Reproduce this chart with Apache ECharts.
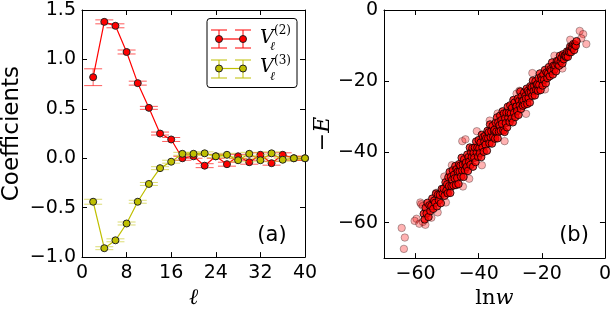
<!DOCTYPE html>
<html>
<head>
<meta charset="utf-8">
<script src="https://cdn.jsdelivr.net/npm/echarts@6/dist/echarts.min.js"></script>
<style>
html,body{margin:0;padding:0;background:#fff;}
#chart{width:614px;height:314px;}
</style>
</head>
<body>
<div id="chart"></div>
<script>
// ---- Panel (a) data ----
const ell = [2,4,6,8,10,12,14,16,18,20,22,24,26,28,30,32,34,36,38,40];
const v2 = [0.82,1.38,1.34,1.075,0.76,0.51,0.25,0.19,0.0,0.02,-0.075,0.02,-0.06,0.02,-0.04,0.035,-0.05,0.035,0.0,0.0];
const v2err = [0.085,0.02,0.02,0.02,0.02,0.015,0.015,0.02,0.02,0.02,0.02,0.02,0.02,0.02,0.02,0.02,0.02,0.02,0.02,0.02];
const v3 = [-0.44,-0.91,-0.83,-0.66,-0.44,-0.26,-0.10,-0.035,0.045,0.045,0.05,0.02,0.035,-0.02,0.045,-0.02,0.05,-0.015,0.0,0.0];
const v3err = [0.025,0.015,0.015,0.015,0.015,0.015,0.015,0.015,0.015,0.015,0.015,0.015,0.015,0.015,0.015,0.015,0.015,0.015,0.015,0.015];
const yTicksA = [-1.0,-0.5,0.0,0.5,1.0,1.5];
const xTicksA = [0,8,16,24,32,40];

// ---- Panel (b) data: dense band ----
const coreLnw = [
-57.4,-57.1,-56.8,-56.5,-56.2,-55.9,-55.6,-55.3,-55.0,-54.7,-54.4,-54.1,-53.8,-53.5,-53.2,-52.9,-52.6,-52.3,-52.0,-51.7,-51.4,-51.1,-50.8,-50.5,-50.2,
-50.0,-49.8,-49.6,-49.4,-49.2,-49.0,-48.8,-48.6,-48.4,-48.2,-48.0,-47.8,-47.6,-47.4,-47.2,-47.0,-46.8,-46.6,-46.4,-46.2,-46.0,-45.8,-45.6,-45.4,-45.2,-45.0,-44.8,-44.6,-44.4,-44.2,
-44.0,-43.8,-43.6,-43.4,-43.2,-43.0,-42.8,-42.6,-42.4,-42.2,-42.0,-41.8,-41.6,-41.4,-41.2,-41.0,-40.8,-40.6,-40.4,-40.2,-40.0,-39.8,-39.6,-39.4,-39.2,-39.0,-38.8,-38.6,-38.4,-38.2,
-38.0,-37.8,-37.6,-37.4,-37.2,-37.0,-36.8,-36.6,-36.4,-36.2,-36.0,-35.8,-35.6,-35.4,-35.2,-35.0,-34.8,-34.6,-34.4,-34.2,-34.0,-33.8,-33.6,-33.4,-33.2,-33.0,-32.8,-32.6,-32.4,-32.2,
-32.0,-31.8,-31.6,-31.4,-31.2,-31.0,-30.8,-30.6,-30.4,-30.2,-30.0,-29.8,-29.6,-29.4,-29.2,-29.0,-28.8,-28.6,-28.4,-28.2,-28.0,-27.8,-27.6,-27.4,-27.2,-27.0,-26.8,-26.6,-26.4,-26.2,
-26.0,-25.8,-25.6,-25.4,-25.2,-25.0,-24.8,-24.6,-24.4,-24.2,-24.0,-23.8,-23.6,-23.4,-23.2,-23.0,-22.8,-22.6,-22.4,-22.2,-22.0,-21.8,-21.6,-21.4,-21.2,-21.0,-20.8,-20.6,-20.4,-20.2,
-20.0,-19.75,-19.5,-19.25,-19.0,-18.75,-18.5,-18.25,-18.0,-17.75,-17.5,-17.25,-17.0,-16.75,-16.5,
-16.25,-16.0,-15.75,-15.5,-15.25,-15.0,-14.75,-14.5,-14.25,-14.0,-13.75,-13.5,-13.25,-13.0,-12.75,
-12.5,-12.25,-12.0,-11.75,-11.5,-11.25,-11.0,-10.75,-10.5,-10.25,-10.0,-9.75,-9.5,-9.25,-9.0
];
const coreNegE = [
-57.5,-59.1,-55.8,-57.4,-54.4,-58.4,-55.1,-56.7,-55.3,-53.2,-56.1,-53.8,-54.4,-51.8,-55.4,-52.1,-53.7,-52.2,-54.5,-50.5,-51.8,-50.4,-52.4,-48.6,-50.9,
-49.2,-51.7,-47.2,-49.7,-45.7,-51.6,-47.1,-49.7,-47.9,-45.2,-49.5,-46.5,-47.5,-44.0,-49.4,-44.9,-47.4,-45.6,-49.1,-43.5,-45.6,-43.9,-47.0,-41.7,-45.3,-43.6,-47.1,-42.1,-45.2,-43.5,
-43.0,-44.3,-40.8,-45.4,-41.5,-42.8,-38.8,-43.7,-40.2,-41.5,-39.0,-44.2,-40.3,-41.7,-38.8,-42.9,-37.1,-40.2,-38.8,-41.4,-36.7,-39.0,-40.4,-37.4,-41.5,-35.2,-38.8,-35.9,-40.0,-37.1,
-35.5,-38.0,-36.2,-39.7,-34.1,-36.2,-34.5,-37.6,-32.3,-35.9,-34.2,-37.7,-32.7,-35.8,-34.1,-33.8,-36.3,-31.8,-34.3,-30.3,-36.2,-31.7,-34.3,-32.5,-29.8,-34.1,-31.1,-32.1,-28.6,-34.0,
-29.2,-34.4,-30.5,-31.9,-29.0,-33.1,-27.3,-30.4,-29.0,-31.6,-26.9,-29.2,-30.6,-27.6,-31.7,-25.4,-29.0,-26.1,-30.2,-27.3,-27.2,-28.5,-25.0,-29.6,-25.7,-27.0,-23.0,-27.9,-24.4,-25.7,
-27.0,-25.5,-23.3,-26.7,-24.3,-25.0,-22.2,-26.5,-22.8,-24.8,-23.3,-26.1,-21.5,-23.2,-21.8,-24.2,-19.9,-22.8,-21.4,-24.1,-20.1,-22.5,-21.1,-20.9,-22.8,-19.2,-21.1,-17.9,-22.6,-18.9,
-19.7,-21.3,-18.2,-19.7,-16.9,-20.7,-17.6,-19.2,-17.9,-16.1,-18.7,-16.7,-17.2,-14.8,-18.2,
-15.7,-16.8,-15.7,-17.3,-14.4,-15.3,-14.3,-15.7,-12.9,-14.5,-13.5,-15.1,-12.5,-13.9,-12.9,
-12.8,-13.2,-11.7,-13.2,-11.6,-11.9,-10.3,-11.9,-10.4,-10.7,-9.6,-11.3,-9.7,-10.1,-8.8
];
// sparse / outlying samples (lighter)
const sparseLnw = [-64.4,-63.4,-63.7,-58.5,-58.2,-59.7,-57.7,-60.3,-58.8,-56.9,-53.0,-57.7,-50.4,-53.5,-50.9,-45.2,-44.2,-40.6,-39.0,-31.8,-27.1,-23.0,-8.0,-6.9,-5.9,-48.5,-45.0,-36.5,-34.0,-28.0,-25.0,-19.0,-16.0,-13.5,-11.0,-43.0,-55.0,-7.5];
const sparseNegE = [-61.5,-64.2,-67.4,-54.3,-54.8,-58.9,-59.8,-59.5,-60.3,-60.6,-57.1,-55.3,-54.3,-51.6,-47.0,-37.0,-36.5,-34.2,-43.8,-37.0,-22.8,-17.8,-5.9,-6.8,-9.6,-43.8,-49.8,-31.2,-29.2,-23.6,-29.3,-22.4,-12.9,-16.5,-8.4,-47.6,-58.6,-8.0];
const ticksB = [-60,-40,-20,0];

const RED = '#ff0000';
const YEL = '#bfbf00';
const FONT = 'DejaVu Sans';

function errRender(color, alpha) {
  return function (params, api) {
    const x = api.value(0), y = api.value(1), e = api.value(2);
    const top = api.coord([x, y + e]);
    const bot = api.coord([x, y - e]);
    const hw = 9;
    const st = { stroke: color, lineWidth: 1, opacity: alpha };
    return {
      type: 'group',
      children: [
        { type: 'line', shape: { x1: top[0], y1: top[1], x2: bot[0], y2: bot[1] }, style: st },
        { type: 'line', shape: { x1: top[0] - hw, y1: top[1], x2: top[0] + hw, y2: top[1] }, style: st },
        { type: 'line', shape: { x1: bot[0] - hw, y1: bot[1], x2: bot[0] + hw, y2: bot[1] }, style: st }
      ]
    };
  };
}

const axLine = { show: true, onZero: false, lineStyle: { color: '#000', width: 1 } };
const axTick = { show: true, inside: true, length: 5, lineStyle: { color: '#000', width: 1 } };
const lblStyle = { color: '#000', fontSize: 19, fontFamily: FONT };
const minus = s => String(s).replace('-', '\u2212');

const chart = echarts.init(document.getElementById('chart'), null, { renderer: 'canvas' });

const option = {
  animation: false,
  backgroundColor: '#fff',
  grid: [
    { left: 81, right: 309, top: 10, bottom: 48 },
    { left: 384, right: 5, top: 10, bottom: 48 }
  ],
  xAxis: [
    {
      gridIndex: 0, type: 'value', min: 0, max: 40, interval: 8, position: 'bottom',
      axisLine: axLine, axisTick: axTick, splitLine: { show: false },
      axisLabel: Object.assign({ margin: 6, formatter: v => String(v) }, lblStyle),
      name: 'ℓ', nameLocation: 'middle', nameGap: 24,
      nameTextStyle: { fontFamily: 'DejaVu Serif', fontStyle: 'italic', fontSize: 22, color: '#000' }
    },
    {
      gridIndex: 0, type: 'value', min: 0, max: 40, interval: 8, position: 'top',
      axisLine: axLine, axisTick: axTick, splitLine: { show: false }, axisLabel: { show: false }
    },
    {
      gridIndex: 1, type: 'value', min: -70, max: 0, position: 'bottom',
      axisLine: axLine, axisTick: Object.assign({ customValues: ticksB }, axTick), splitLine: { show: false },
      axisLabel: Object.assign({ margin: 6, customValues: ticksB, formatter: v => minus(v) }, lblStyle),
      name: '{a|ln}{b|w}', nameLocation: 'middle', nameGap: 24,
      nameTextStyle: {
        rich: {
          a: { fontFamily: 'DejaVu Serif', fontSize: 21, color: '#000' },
          b: { fontFamily: 'DejaVu Serif', fontStyle: 'italic', fontSize: 21, color: '#000' }
        }
      }
    },
    {
      gridIndex: 1, type: 'value', min: -70, max: 0, position: 'top',
      axisLine: axLine, axisTick: Object.assign({ customValues: ticksB }, axTick), splitLine: { show: false }, axisLabel: { show: false }
    }
  ],
  yAxis: [
    {
      gridIndex: 0, type: 'value', min: -1, max: 1.5, interval: 0.5, position: 'left',
      axisLine: axLine, axisTick: axTick, splitLine: { show: false },
      axisLabel: Object.assign({ margin: 6, formatter: v => (v < 0 ? '\u2212' : '') + Math.abs(v).toFixed(1) }, lblStyle),
      name: 'Coefficients', nameLocation: 'middle', nameGap: 58,
      nameTextStyle: { fontFamily: FONT, fontSize: 23, color: '#000' }
    },
    {
      gridIndex: 0, type: 'value', min: -1, max: 1.5, interval: 0.5, position: 'right',
      axisLine: axLine, axisTick: axTick, splitLine: { show: false }, axisLabel: { show: false }
    },
    {
      gridIndex: 1, type: 'value', min: -70, max: 0, position: 'left',
      axisLine: axLine, axisTick: Object.assign({ customValues: ticksB }, axTick), splitLine: { show: false },
      axisLabel: Object.assign({ margin: 6, customValues: ticksB, formatter: v => minus(v) }, lblStyle),
      name: '{a|\u2212}{b|E}', nameLocation: 'middle', nameGap: 14,
      nameTextStyle: {
        rich: {
          a: { fontFamily: 'DejaVu Serif', fontSize: 22, color: '#000' },
          b: { fontFamily: 'DejaVu Serif', fontStyle: 'italic', fontSize: 22, color: '#000' }
        }
      }
    },
    {
      gridIndex: 1, type: 'value', min: -70, max: 0, position: 'right',
      axisLine: axLine, axisTick: Object.assign({ customValues: ticksB }, axTick), splitLine: { show: false }, axisLabel: { show: false }
    }
  ],
  series: [
    {
      type: 'custom', name: 'V2 err', xAxisIndex: 0, yAxisIndex: 0, clip: true, z: 2,
      renderItem: errRender(RED, 0.65),
      data: ell.map((l, i) => [l, v2[i], v2err[i]])
    },
    {
      type: 'line', name: 'V2', xAxisIndex: 0, yAxisIndex: 0, z: 3,
      symbol: 'circle', symbolSize: 7,
      lineStyle: { color: RED, width: 1.2 },
      itemStyle: { color: RED, borderColor: '#222', borderWidth: 1 },
      data: ell.map((l, i) => [l, v2[i]])
    },
    {
      type: 'custom', name: 'V3 err', xAxisIndex: 0, yAxisIndex: 0, clip: true, z: 4,
      renderItem: errRender(YEL, 0.55),
      data: ell.map((l, i) => [l, v3[i], v3err[i]])
    },
    {
      type: 'line', name: 'V3', xAxisIndex: 0, yAxisIndex: 0, z: 5,
      symbol: 'circle', symbolSize: 7,
      lineStyle: { color: YEL, width: 1.2 },
      itemStyle: { color: YEL, borderColor: '#222', borderWidth: 1 },
      data: ell.map((l, i) => [l, v3[i]])
    },
    {
      type: 'scatter', name: 'sparse', xAxisIndex: 2, yAxisIndex: 2, z: 2,
      symbol: 'circle', symbolSize: 7.5,
      itemStyle: { color: RED, borderColor: '#000', borderWidth: 1, opacity: 0.3 },
      data: sparseLnw.map((x, i) => [x, sparseNegE[i]])
    },
    {
      type: 'scatter', name: 'core', xAxisIndex: 2, yAxisIndex: 2, z: 3,
      symbol: 'circle', symbolSize: 7.5,
      itemStyle: { color: RED, borderColor: '#000', borderWidth: 1, opacity: 0.78 },
      data: coreLnw.map((x, i) => [x, coreNegE[i]])
    }
  ],
  graphic: [
    // legend frame
    { type: 'rect', shape: { x: 207, y: 18.5, width: 90, height: 69, r: 3 }, style: { fill: '#fff', stroke: '#000', lineWidth: 1 }, z: 20 },
    // red entry
    { type: 'line', shape: { x1: 219, y1: 39, x2: 243, y2: 39 }, style: { stroke: RED, lineWidth: 1.2 }, z: 21 },
    { type: 'line', shape: { x1: 219, y1: 30, x2: 219, y2: 48 }, style: { stroke: RED, lineWidth: 1 }, z: 21 },
    { type: 'line', shape: { x1: 211, y1: 30, x2: 227, y2: 30 }, style: { stroke: RED, lineWidth: 1 }, z: 21 },
    { type: 'line', shape: { x1: 211, y1: 48, x2: 227, y2: 48 }, style: { stroke: RED, lineWidth: 1 }, z: 21 },
    { type: 'line', shape: { x1: 243, y1: 30, x2: 243, y2: 48 }, style: { stroke: RED, lineWidth: 1 }, z: 21 },
    { type: 'line', shape: { x1: 235, y1: 30, x2: 251, y2: 30 }, style: { stroke: RED, lineWidth: 1 }, z: 21 },
    { type: 'line', shape: { x1: 235, y1: 48, x2: 251, y2: 48 }, style: { stroke: RED, lineWidth: 1 }, z: 21 },
    { type: 'circle', shape: { cx: 219, cy: 39, r: 3.5 }, style: { fill: RED, stroke: '#222', lineWidth: 1 }, z: 22 },
    { type: 'circle', shape: { cx: 243, cy: 39, r: 3.5 }, style: { fill: RED, stroke: '#222', lineWidth: 1 }, z: 22 },
    // yellow entry
    { type: 'line', shape: { x1: 219, y1: 68.5, x2: 243, y2: 68.5 }, style: { stroke: YEL, lineWidth: 1.2 }, z: 21 },
    { type: 'line', shape: { x1: 219, y1: 60, x2: 219, y2: 78 }, style: { stroke: YEL, lineWidth: 1 }, z: 21 },
    { type: 'line', shape: { x1: 211, y1: 60, x2: 227, y2: 60 }, style: { stroke: YEL, lineWidth: 1 }, z: 21 },
    { type: 'line', shape: { x1: 211, y1: 78, x2: 227, y2: 78 }, style: { stroke: YEL, lineWidth: 1 }, z: 21 },
    { type: 'line', shape: { x1: 243, y1: 60, x2: 243, y2: 78 }, style: { stroke: YEL, lineWidth: 1 }, z: 21 },
    { type: 'line', shape: { x1: 235, y1: 60, x2: 251, y2: 60 }, style: { stroke: YEL, lineWidth: 1 }, z: 21 },
    { type: 'line', shape: { x1: 235, y1: 78, x2: 251, y2: 78 }, style: { stroke: YEL, lineWidth: 1 }, z: 21 },
    { type: 'circle', shape: { cx: 219, cy: 68.5, r: 3.5 }, style: { fill: YEL, stroke: '#222', lineWidth: 1 }, z: 22 },
    { type: 'circle', shape: { cx: 243, cy: 68.5, r: 3.5 }, style: { fill: YEL, stroke: '#222', lineWidth: 1 }, z: 22 },
    // legend texts
    { type: 'text', x: 260, y: 38, style: { text: 'V', font: 'italic 19px "DejaVu Serif"', fill: '#000', verticalAlign: 'middle' }, z: 22 },
    { type: 'text', x: 274, y: 31, style: { text: '(2)', font: '12px "DejaVu Serif"', fill: '#000', verticalAlign: 'middle' }, z: 22 },
    { type: 'text', x: 270, y: 47, style: { text: 'ℓ', font: 'italic 12px "DejaVu Serif"', fill: '#000', verticalAlign: 'middle' }, z: 22 },
    { type: 'text', x: 260, y: 67.5, style: { text: 'V', font: 'italic 19px "DejaVu Serif"', fill: '#000', verticalAlign: 'middle' }, z: 22 },
    { type: 'text', x: 274, y: 60.5, style: { text: '(3)', font: '12px "DejaVu Serif"', fill: '#000', verticalAlign: 'middle' }, z: 22 },
    { type: 'text', x: 270, y: 76.5, style: { text: 'ℓ', font: 'italic 12px "DejaVu Serif"', fill: '#000', verticalAlign: 'middle' }, z: 22 },
    // panel labels
    { type: 'text', x: 272, y: 236, style: { text: '(a)', font: '21px "DejaVu Sans"', fill: '#000', align: 'center', verticalAlign: 'middle' }, z: 22 },
    { type: 'text', x: 574, y: 236, style: { text: '(b)', font: '21px "DejaVu Sans"', fill: '#000', align: 'center', verticalAlign: 'middle' }, z: 22 }
  ]
};
chart.setOption(option);
</script>
</body>
</html>
